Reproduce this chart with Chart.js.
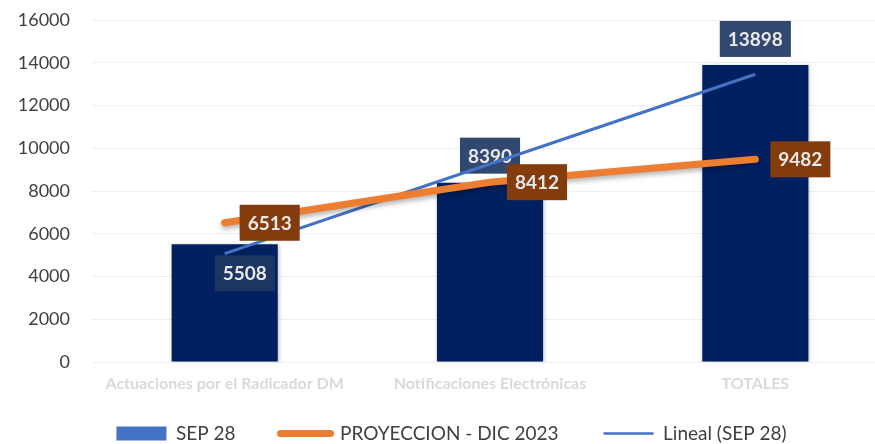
<!DOCTYPE html>
<html>
<head>
<meta charset="utf-8">
<script src="https://cdn.jsdelivr.net/npm/chart.js@4/dist/chart.umd.min.js"></script>
<style>
  body { margin: 0; background: #ffffff; overflow: hidden; }
  #wrap { width: 890px; height: 444px; }
</style>
</head>
<body>
<div id="wrap"><canvas id="chart" width="890" height="444"></canvas></div>
<script>
// data
var categories = ["Actuaciones por el Radicador DM", "Notificaciones Electrónicas", "TOTALES"];
var sep28 = [5508, 8390, 13898];
var proyeccion = [6513, 8412, 9482];
var lineal = [5070, 9265, 13460];   // trend line read at each category
var yTicks = [0, 2000, 4000, 6000, 8000, 10000, 12000, 14000, 16000];

var FONT = "Lato, 'Open Sans', sans-serif";

// boxes with the values, drawn right after their dataset
var valueBoxes = {
    id: 'valueBoxes',
    afterDatasetDraw: function(chart, args, opts) {
        var cfg = opts.sets[args.index];
        if (!cfg) return;
        var ctx = chart.ctx;
        var meta = args.meta;
        ctx.save();
        ctx.font = "bold 19px " + FONT;
        ctx.textAlign = 'center';
        ctx.textBaseline = 'middle';
        meta.data.forEach(function(el, i) {
            var v = chart.data.datasets[args.index].data[i];
            var off = cfg.offsets[i];
            var cx = el.x + off[0];
            var cy = el.y + off[1];
            var txt = String(v);
            var w = ctx.measureText(txt).width + 16;
            var h = 36;
            ctx.fillStyle = cfg.bg;
            ctx.fillRect(cx - w / 2, cy - h / 2, w, h);
            ctx.fillStyle = '#e8e8e8';
            ctx.fillText(txt, cx, cy + 1);
        });
        ctx.restore();
    }
};

// soft shadow under bars and the orange line
var shadows = {
    id: 'shadows',
    beforeDatasetDraw: function(chart, args) {
        var ctx = chart.ctx;
        ctx.save();
        if (args.index === 0) {
            ctx.shadowColor = 'rgba(0,0,0,0.25)';
            ctx.shadowBlur = 4;
            ctx.shadowOffsetX = 1;
            ctx.shadowOffsetY = 1;
        } else if (args.index === 1) {
            ctx.shadowColor = 'rgba(0,0,0,0.3)';
            ctx.shadowBlur = 5;
            ctx.shadowOffsetY = 3;
        }
    },
    afterDatasetDraw: function(chart, args) {
        chart.ctx.restore();
    }
};

// legend sits closer to the axis labels than its padding allows:
// reserve less height for it, then move it up after layout
var legendFit = {
    id: 'legendFit',
    afterInit: function(chart) {
        var legend = chart.legend;
        var fit = legend.fit;
        legend.fit = function() {
            fit.call(this);
            this.height = 50;
        };
    },
    afterLayout: function(chart) {
        chart.legend.top = 379;
        chart.legend.bottom = 444;
    }
};

var canvas = document.getElementById('chart');
var chart = new Chart(canvas, {
    type: 'bar',
    data: {
        labels: categories,
        datasets: [
            {
                label: 'SEP 28',
                data: sep28,
                backgroundColor: '#002060',
                barPercentage: 0.4,
                categoryPercentage: 1,
                order: 3
            },
            {
                type: 'line',
                label: 'PROYECCION - DIC 2023',
                data: proyeccion,
                borderColor: '#ED7D31',
                backgroundColor: '#ED7D31',
                borderWidth: 7,
                borderCapStyle: 'round',
                pointRadius: 0,
                order: 1
            },
            {
                type: 'line',
                label: 'Lineal (SEP 28)',
                data: lineal,
                borderColor: '#4472C4',
                backgroundColor: '#4472C4',
                borderWidth: 3,
                pointRadius: 0,
                order: 2
            }
        ]
    },
    options: {
        responsive: false,
        animation: false,
        layout: { padding: { top: 20, left: 15, right: 2, bottom: 0 } },
        scales: {
            x: {
                grid: { display: false },
                border: { display: false },
                ticks: {
                    color: '#d9d9d9',
                    font: { family: FONT, size: 16, weight: 'bold' },
                    padding: 4,
                    maxRotation: 0,
                    autoSkip: false
                },
                afterFit: function(axis) {
                    axis.height = 32;
                    axis.paddingLeft = 0;
                    axis.paddingRight = 0;
                }
            },
            y: {
                min: 0,
                max: 16000,
                afterBuildTicks: function(axis) {
                    axis.ticks = yTicks.map(function(v) { return { value: v }; });
                },
                grid: { color: '#eeeeee', drawTicks: false },
                border: { display: false },
                ticks: {
                    color: '#404040',
                    font: { family: FONT, size: 18 },
                    padding: 22,
                    callback: function(v) { return String(v); }
                },
                afterFit: function(axis) {
                    axis.width = 77;
                    axis.paddingTop = 11;
                    axis.paddingBottom = 0;
                }
            }
        },
        plugins: {
            tooltip: { enabled: false },
            legend: {
                position: 'bottom',
                labels: {
                    usePointStyle: true,
                    pointStyleWidth: 50,
                    boxWidth: 50,
                    boxHeight: 14,
                    padding: 45,
                    color: '#404040',
                    font: { family: FONT, size: 19 },
                    generateLabels: function(chart) {
                        return [
                            { text: 'SEP 28', pointStyle: 'rect', fillStyle: '#4472C4', strokeStyle: '#4472C4', lineWidth: 0, datasetIndex: 0, fontColor: '#404040' },
                            { text: 'PROYECCION - DIC 2023', pointStyle: 'line', fillStyle: '#ED7D31', strokeStyle: '#ED7D31', lineWidth: 7, lineCap: 'round', datasetIndex: 1, fontColor: '#404040' },
                            { text: 'Lineal (SEP 28)', pointStyle: 'line', fillStyle: '#4472C4', strokeStyle: '#4472C4', lineWidth: 2.5, datasetIndex: 2, fontColor: '#404040' }
                        ];
                    }
                }
            },
            valueBoxes: {
                sets: {
                    0: { bg: 'rgba(31,56,100,0.92)', offsets: [[20, 29], [0, -27], [0, -26]] },
                    1: { bg: '#843C0C', offsets: [[45, 0], [47, 0], [45, 0]] }
                }
            }
        }
    },
    plugins: [shadows, valueBoxes, legendFit]
});
</script>
</body>
</html>
